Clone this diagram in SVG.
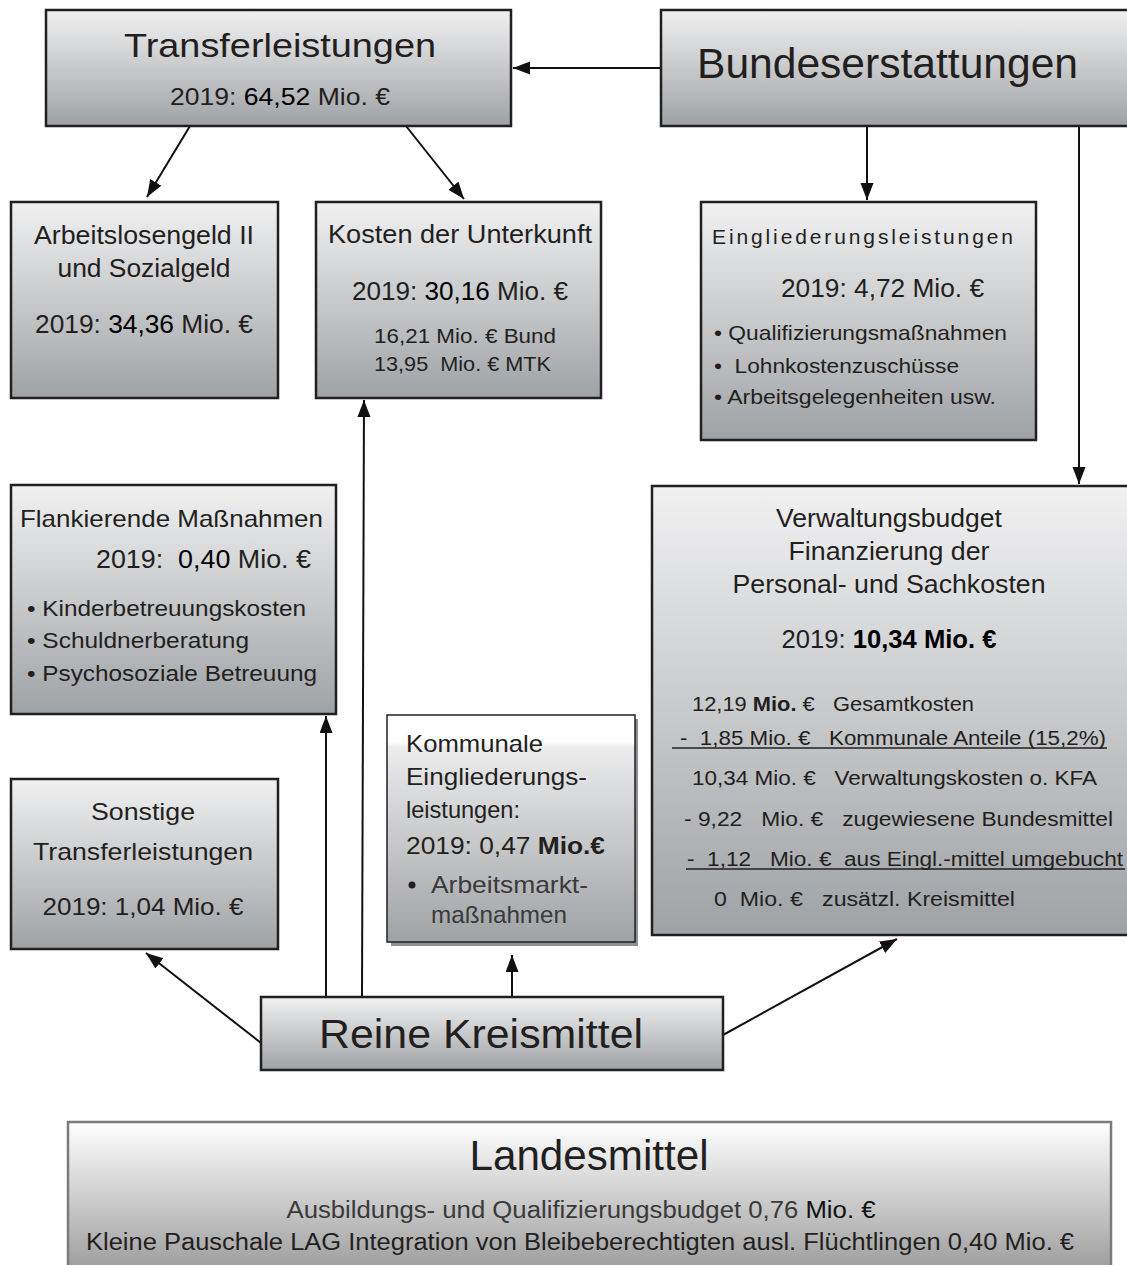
<svg xmlns="http://www.w3.org/2000/svg" width="1127" height="1265" viewBox="0 0 1127 1265">
<defs>
<linearGradient id="g" x1="0" y1="0" x2="0" y2="1">
<stop offset="0" stop-color="#f1f1f2"/>
<stop offset="1" stop-color="#9fa2a5"/>
</linearGradient>
<linearGradient id="gk" x1="0" y1="0" x2="0" y2="1">
<stop offset="0" stop-color="#ffffff"/>
<stop offset="0.12" stop-color="#ffffff"/>
<stop offset="0.14" stop-color="#ececed"/>
<stop offset="1" stop-color="#9fa2a5"/>
</linearGradient>
<linearGradient id="gl" x1="0" y1="0" x2="0" y2="1">
<stop offset="0" stop-color="#ffffff"/>
<stop offset="1" stop-color="#9c9c9c"/>
</linearGradient>
<marker id="ah" markerUnits="userSpaceOnUse" markerWidth="18" markerHeight="14" refX="17" refY="6.5" orient="auto">
<path d="M0,0 L17,6.5 L0,13 z" fill="#111"/>
</marker>
</defs>
<style>
.box{fill:url(#g);stroke:#231f20;stroke-width:2.5}
.t{font-family:"Liberation Sans",Arial,sans-serif;fill:#231f20}
.c{text-anchor:middle}
.b{font-weight:bold}
.con{stroke:#111;stroke-width:2;fill:none;marker-end:url(#ah)}
</style>
<g id="connectors">
<line class="con" x1="661" y1="68" x2="513" y2="68"/>
<line class="con" x1="190" y1="126" x2="147" y2="197"/>
<line class="con" x1="406" y1="126" x2="464" y2="199"/>
<line class="con" x1="867" y1="126" x2="867" y2="200"/>
<line class="con" x1="1079" y1="126" x2="1079" y2="484"/>
<line class="con" x1="261" y1="1043" x2="146" y2="953"/>
<line class="con" x1="326" y1="997" x2="326" y2="716"/>
<line class="con" x1="362" y1="997" x2="364" y2="400"/>
<line class="con" x1="512" y1="997" x2="512" y2="955"/>
<line class="con" x1="723" y1="1035" x2="897" y2="939"/>
</g>
<g id="transferleistungen">
<rect class="box" x="46" y="10" width="465" height="116"/>
<text class="t c" x="280" y="57" font-size="34" textLength="312" lengthAdjust="spacingAndGlyphs">Transferleistungen</text>
<text class="t c" x="280" y="105" font-size="24" textLength="220" lengthAdjust="spacingAndGlyphs">2019: <tspan fill="#000">64,52</tspan> Mio. €</text>
</g>
<g id="bundeserstattungen">
<rect class="box" x="661" y="10" width="470" height="116"/>
<text class="t" x="697" y="78" font-size="43" textLength="381" lengthAdjust="spacingAndGlyphs">Bundeserstattungen</text>
</g>
<g id="arbeitslosengeld">
<rect class="box" x="11" y="202" width="267" height="196"/>
<text class="t c" x="144" y="244" font-size="25" textLength="220" lengthAdjust="spacingAndGlyphs">Arbeitslosengeld II</text>
<text class="t c" x="144" y="277" font-size="25" textLength="173" lengthAdjust="spacingAndGlyphs">und Sozialgeld</text>
<text class="t c" x="144" y="333" font-size="25" textLength="218" lengthAdjust="spacingAndGlyphs">2019: <tspan fill="#000">34,36</tspan> Mio. €</text>
</g>
<g id="kosten-unterkunft">
<rect class="box" x="316" y="202" width="285" height="196"/>
<text class="t c" x="460" y="243" font-size="25" textLength="264" lengthAdjust="spacingAndGlyphs">Kosten der Unterkunft</text>
<text class="t c" x="460" y="300" font-size="26" textLength="216" lengthAdjust="spacingAndGlyphs">2019: <tspan fill="#000">30,16</tspan> Mio. €</text>
<text class="t" x="374" y="343" font-size="21" textLength="182" lengthAdjust="spacingAndGlyphs">16,21 Mio. € Bund</text>
<text class="t" x="374" y="371" font-size="21" textLength="177" lengthAdjust="spacingAndGlyphs" xml:space="preserve">13,95  Mio. € MTK</text>
</g>
<g id="eingliederungsleistungen">
<rect class="box" x="701" y="202" width="335" height="238"/>
<text class="t" x="712" y="244" font-size="21" textLength="301" lengthAdjust="spacing">Eingliederungsleistungen</text>
<text class="t" x="781" y="297" font-size="26" textLength="203" lengthAdjust="spacingAndGlyphs">2019: 4,72 Mio. €</text>
<text class="t" x="714" y="340" font-size="21" textLength="293" lengthAdjust="spacingAndGlyphs">• Qualifizierungsmaßnahmen</text>
<text class="t" x="714" y="373" font-size="21" textLength="245" lengthAdjust="spacingAndGlyphs" xml:space="preserve">•  Lohnkostenzuschüsse</text>
<text class="t" x="714" y="404" font-size="21" textLength="282" lengthAdjust="spacingAndGlyphs">• Arbeitsgelegenheiten usw.</text>
</g>
<g id="verwaltungsbudget">
<rect class="box" x="652" y="486" width="479" height="449"/>
<text class="t c" x="889" y="527" font-size="25" textLength="226" lengthAdjust="spacingAndGlyphs">Verwaltungsbudget</text>
<text class="t c" x="889" y="560" font-size="25" textLength="201" lengthAdjust="spacingAndGlyphs">Finanzierung der</text>
<text class="t c" x="889" y="593" font-size="25" textLength="313" lengthAdjust="spacingAndGlyphs">Personal- und Sachkosten</text>
<text class="t c" x="889" y="648" font-size="25" textLength="215" lengthAdjust="spacingAndGlyphs">2019: <tspan class="b" fill="#000">10,34 Mio. €</tspan></text>
<text class="t" x="692" y="711" font-size="20" textLength="282" lengthAdjust="spacingAndGlyphs" xml:space="preserve">12,19 <tspan class="b">Mio.</tspan> €   Gesamtkosten</text>
<text class="t" x="680" y="745" font-size="20" textLength="426" lengthAdjust="spacingAndGlyphs" xml:space="preserve">-  1,85 Mio. €   Kommunale Anteile (15,2%)</text>
<line x1="672" y1="748" x2="1107" y2="748" stroke="#231f20" stroke-width="1.5"/>
<text class="t" x="692" y="785" font-size="20" textLength="405" lengthAdjust="spacingAndGlyphs" xml:space="preserve">10,34 Mio. €   Verwaltungskosten o. KFA</text>
<text class="t" x="684" y="826" font-size="20" textLength="429" lengthAdjust="spacingAndGlyphs" xml:space="preserve">- 9,22   Mio. €   zugewiesene Bundesmittel</text>
<text class="t" x="687" y="866" font-size="20" textLength="436" lengthAdjust="spacingAndGlyphs" xml:space="preserve">-  1,12   Mio. €  aus Eingl.-mittel umgebucht</text>
<line x1="686" y1="869" x2="1125" y2="869" stroke="#231f20" stroke-width="1.5"/>
<text class="t" x="714" y="906" font-size="20" textLength="301" lengthAdjust="spacingAndGlyphs" xml:space="preserve">0  Mio. €   zusätzl. Kreismittel</text>
</g>
<g id="flankierende-massnahmen">
<rect class="box" x="11" y="485" width="325" height="229"/>
<text class="t" x="20" y="527" font-size="24" textLength="303" lengthAdjust="spacingAndGlyphs">Flankierende Maßnahmen</text>
<text class="t" x="96" y="568" font-size="25" textLength="215" lengthAdjust="spacingAndGlyphs" xml:space="preserve">2019:  <tspan fill="#000">0,40</tspan> Mio. €</text>
<text class="t" x="27" y="616" font-size="22" textLength="279" lengthAdjust="spacingAndGlyphs">• Kinderbetreuungskosten</text>
<text class="t" x="27" y="648" font-size="22" textLength="222" lengthAdjust="spacingAndGlyphs">• Schuldnerberatung</text>
<text class="t" x="27" y="681" font-size="22" textLength="290" lengthAdjust="spacingAndGlyphs">• Psychosoziale Betreuung</text>
</g>
<g id="sonstige-transferleistungen">
<rect class="box" x="11" y="779" width="267" height="170"/>
<text class="t c" x="143" y="820" font-size="24" textLength="104" lengthAdjust="spacingAndGlyphs">Sonstige</text>
<text class="t c" x="143" y="860" font-size="24" textLength="220" lengthAdjust="spacingAndGlyphs">Transferleistungen</text>
<text class="t c" x="143" y="915" font-size="24" textLength="201" lengthAdjust="spacingAndGlyphs">2019: 1,04 Mio. €</text>
</g>
<g id="kommunale-eingliederungsleistungen">
<rect x="391" y="719" width="247" height="227" fill="#8e9093"/>
<rect x="387" y="715" width="248" height="227" fill="url(#gk)" stroke="#231f20" stroke-width="1.5"/>
<text class="t" x="406" y="752" font-size="24" textLength="137" lengthAdjust="spacingAndGlyphs">Kommunale</text>
<text class="t" x="406" y="785" font-size="24" textLength="181" lengthAdjust="spacingAndGlyphs">Eingliederungs-</text>
<text class="t" x="406" y="818" font-size="24" textLength="114" lengthAdjust="spacingAndGlyphs">leistungen:</text>
<text class="t" x="406" y="854" font-size="24" textLength="199" lengthAdjust="spacingAndGlyphs">2019: 0,47 <tspan class="b">Mio.€</tspan></text>
<circle cx="412" cy="885" r="3.5" fill="#231f20"/>
<text class="t" x="431" y="893" font-size="24" textLength="157" lengthAdjust="spacingAndGlyphs" style="fill:#3a3a3a">Arbeitsmarkt-</text>
<text class="t" x="431" y="923" font-size="24" textLength="136" lengthAdjust="spacingAndGlyphs" style="fill:#3a3a3a">maßnahmen</text>
</g>
<g id="reine-kreismittel">
<rect class="box" x="261" y="997" width="462" height="73"/>
<text class="t" x="319" y="1048" font-size="40" textLength="324" lengthAdjust="spacingAndGlyphs">Reine Kreismittel</text>
</g>
<g id="landesmittel">
<rect x="68" y="1122" width="1043" height="150" fill="url(#gl)" stroke="#7b7b7b" stroke-width="2.5"/>
<text class="t c" x="589" y="1170" font-size="42" textLength="239" lengthAdjust="spacingAndGlyphs">Landesmittel</text>
<text class="t c" x="581" y="1218" font-size="23" textLength="589" lengthAdjust="spacingAndGlyphs" style="fill:#3a3a3a">Ausbildungs- und Qualifizierungsbudget 0,76 <tspan fill="#111">Mio. €</tspan></text>
<text class="t c" x="580" y="1250" font-size="23" textLength="988" lengthAdjust="spacingAndGlyphs">Kleine Pauschale LAG Integration von Bleibeberechtigten ausl. Flüchtlingen 0,40 Mio. €</text>
</g>
</svg>
